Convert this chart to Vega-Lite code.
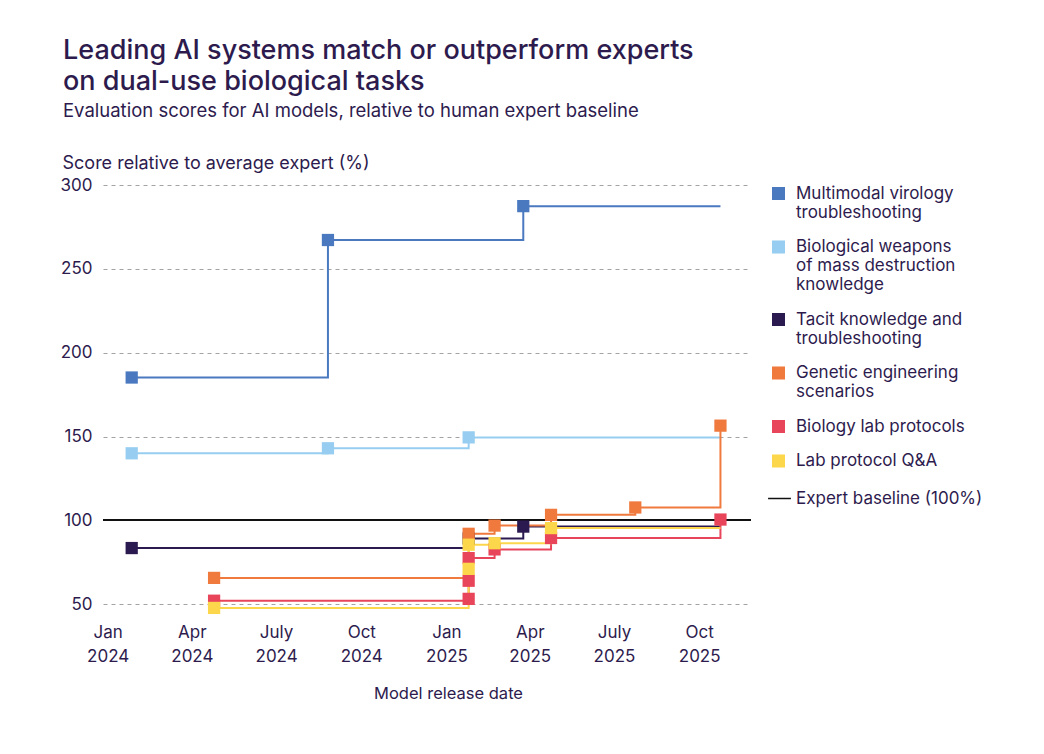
{
  "$schema": "https://vega.github.io/schema/vega-lite/v6.json",
  "width": 648,
  "height": 436,
  "autosize": {"type": "none"},
  "padding": {"left": 103, "top": 185, "right": 293, "bottom": 133},
  "background": "white",
  "config": {
    "font": "Inter",
    "view": {"stroke": null},
    "title": {"color": "#2d1b4e", "subtitleColor": "#2d1b4e"},
    "axis": {"labelColor": "#2d1b4e", "titleColor": "#2d1b4e"},
    "legend": {"labelColor": "#2d1b4e", "padding": 0, "offset": 0}
  },
  "title": {
    "text": ["Leading AI systems match or outperform experts", "on dual-use biological tasks"],
    "subtitle": "Evaluation scores for AI models, relative to human expert baseline",
    "anchor": "start",
    "frame": "group",
    "dx": -40,
    "offset": 33,
    "fontSize": 27,
    "fontWeight": 500,
    "lineHeight": 31,
    "subtitleFontSize": 18.5,
    "subtitleFontWeight": "normal",
    "subtitlePadding": 6
  },
  "data": {
    "values": [
      {"series": "Multimodal virology troubleshooting", "date": "2024-01-27", "value": 185.2, "kind": "release"},
      {"series": "Multimodal virology troubleshooting", "date": "2024-08-26", "value": 267.2, "kind": "release"},
      {"series": "Multimodal virology troubleshooting", "date": "2025-03-25", "value": 287.4, "kind": "release"},
      {"series": "Multimodal virology troubleshooting", "date": "2025-10-24", "value": 287.4, "kind": "current"},

      {"series": "Biological weapons of mass destruction knowledge", "date": "2024-01-27", "value": 140.0, "kind": "release"},
      {"series": "Biological weapons of mass destruction knowledge", "date": "2024-08-26", "value": 143.0, "kind": "release"},
      {"series": "Biological weapons of mass destruction knowledge", "date": "2025-01-25", "value": 149.5, "kind": "release"},
      {"series": "Biological weapons of mass destruction knowledge", "date": "2025-10-24", "value": 149.5, "kind": "current"},

      {"series": "Tacit knowledge and troubleshooting", "date": "2024-01-27", "value": 83.5, "kind": "release"},
      {"series": "Tacit knowledge and troubleshooting", "date": "2025-01-25", "value": 89.2, "kind": "release"},
      {"series": "Tacit knowledge and troubleshooting", "date": "2025-03-25", "value": 96.3, "kind": "release"},
      {"series": "Tacit knowledge and troubleshooting", "date": "2025-10-24", "value": 96.3, "kind": "current"},

      {"series": "Genetic engineering scenarios", "date": "2024-04-25", "value": 65.7, "kind": "release"},
      {"series": "Genetic engineering scenarios", "date": "2025-01-25", "value": 92.0, "kind": "release"},
      {"series": "Genetic engineering scenarios", "date": "2025-02-22", "value": 96.9, "kind": "release"},
      {"series": "Genetic engineering scenarios", "date": "2025-04-24", "value": 103.3, "kind": "release"},
      {"series": "Genetic engineering scenarios", "date": "2025-07-24", "value": 107.7, "kind": "release"},
      {"series": "Genetic engineering scenarios", "date": "2025-10-24", "value": 156.5, "kind": "release"},

      {"series": "Biology lab protocols", "date": "2024-04-25", "value": 52.1, "kind": "release"},
      {"series": "Biology lab protocols", "date": "2025-01-25", "value": 53.2, "kind": "release"},
      {"series": "Biology lab protocols", "date": "2025-01-25", "value": 64.0, "kind": "release"},
      {"series": "Biology lab protocols", "date": "2025-01-25", "value": 77.5, "kind": "release"},
      {"series": "Biology lab protocols", "date": "2025-02-22", "value": 82.7, "kind": "release"},
      {"series": "Biology lab protocols", "date": "2025-04-24", "value": 89.5, "kind": "release"},
      {"series": "Biology lab protocols", "date": "2025-10-24", "value": 100.5, "kind": "release"},

      {"series": "Lab protocol Q&A", "date": "2024-04-25", "value": 47.8, "kind": "release"},
      {"series": "Lab protocol Q&A", "date": "2025-01-25", "value": 71.1, "kind": "release"},
      {"series": "Lab protocol Q&A", "date": "2025-01-25", "value": 85.5, "kind": "release"},
      {"series": "Lab protocol Q&A", "date": "2025-02-22", "value": 86.4, "kind": "release"},
      {"series": "Lab protocol Q&A", "date": "2025-04-24", "value": 95.4, "kind": "release"},
      {"series": "Lab protocol Q&A", "date": "2025-10-24", "value": 95.4, "kind": "current"}
    ]
  },
  "encoding": {
    "x": {
      "field": "date",
      "type": "temporal",
      "scale": {"domain": [{"year": 2023, "month": 12, "date": 27}, {"year": 2025, "month": 11, "date": 26}]},
      "axis": {
        "values": [
          {"year": 2024, "month": 1, "date": 1}, {"year": 2024, "month": 4, "date": 1},
          {"year": 2024, "month": 7, "date": 1}, {"year": 2024, "month": 10, "date": 1},
          {"year": 2025, "month": 1, "date": 1}, {"year": 2025, "month": 4, "date": 1},
          {"year": 2025, "month": 7, "date": 1}, {"year": 2025, "month": 10, "date": 1}
        ],
        "labelExpr": "[timeFormat(datum.value, '%m') == '07' ? 'July' : timeFormat(datum.value, '%b'), timeFormat(datum.value, '%Y')]",
        "labelFontSize": 17,
        "labelLineHeight": 24,
        "labelBaseline": "top",
        "labelPadding": 3,
        "labelFlush": false,
        "labelOverlap": false,
        "ticks": false,
        "domain": false,
        "grid": false,
        "title": "Model release date",
        "titleFontSize": 16.5,
        "titleFontWeight": "normal",
        "titleX": 345,
        "titleY": 72,
        "titleAlign": "center",
        "titleBaseline": "middle"
      }
    },
    "y": {
      "field": "value",
      "type": "quantitative",
      "scale": {"domain": [40, 300], "nice": false, "zero": false},
      "axis": {
        "values": [50, 100, 150, 200, 250, 300],
        "labelFontSize": 17,
        "labelPadding": 11,
        "ticks": false,
        "domain": false,
        "grid": true,
        "gridDash": [4, 4],
        "gridColor": "#a3a3a3",
        "gridWidth": 1,
        "title": "Score relative to average expert (%)",
        "titleAngle": 0,
        "titleX": -41,
        "titleY": -22,
        "titleAlign": "left",
        "titleBaseline": "middle",
        "titleFontSize": 18,
        "titleFontWeight": "normal"
      }
    }
  },
  "layer": [
    {
      "mark": {"type": "rule", "strokeWidth": 1.3},
      "encoding": {
        "x": null,
        "y": {"datum": 100},
        "stroke": {
          "datum": "Expert baseline (100%)",
          "scale": {"range": ["#111111"]},
          "legend": {
            "title": null,
            "orient": "none",
            "legendX": 664,
            "legendY": 301,
            "symbolType": "stroke",
            "symbolSize": 520,
            "symbolStrokeWidth": 1.5,
            "labelFontSize": 17,
            "labelOffset": 4,
            "labelLimit": 300
          }
        }
      }
    },
    {
      "mark": {"type": "line", "interpolate": "step-after", "strokeWidth": 2},
      "encoding": {
        "color": {
          "field": "series",
          "type": "nominal",
          "scale": {
            "domain": [
              "Multimodal virology troubleshooting",
              "Biological weapons of mass destruction knowledge",
              "Tacit knowledge and troubleshooting",
              "Genetic engineering scenarios",
              "Biology lab protocols",
              "Lab protocol Q&A"
            ],
            "range": ["#4a79c0", "#96cdf0", "#2b1a50", "#f07a3e", "#e8455b", "#fdd74b"]
          },
          "legend": {
            "title": null,
            "orient": "none",
            "legendX": 667,
            "legendY": 0,
            "symbolType": "square",
            "symbolSize": 170,
            "symbolStrokeWidth": 0,
            "symbolOpacity": 1,
            "labelFontSize": 17,
            "labelLineHeight": 19,
            "labelBaseline": "middle",
            "labelOffset": 9,
            "rowPadding": 16.5,
            "labelLimit": 300,
            "labelExpr": "datum.label == 'Multimodal virology troubleshooting' ? ['Multimodal virology', 'troubleshooting'] : datum.label == 'Biological weapons of mass destruction knowledge' ? ['Biological weapons', 'of mass destruction', 'knowledge'] : datum.label == 'Tacit knowledge and troubleshooting' ? ['Tacit knowledge and', 'troubleshooting'] : datum.label == 'Genetic engineering scenarios' ? ['Genetic engineering', 'scenarios'] : datum.label"
          }
        }
      }
    },
    {
      "transform": [{"filter": "datum.kind == 'release'"}],
      "mark": {"type": "square", "size": 150, "opacity": 1},
      "encoding": {
        "color": {"field": "series", "type": "nominal"}
      }
    }
  ]
}
